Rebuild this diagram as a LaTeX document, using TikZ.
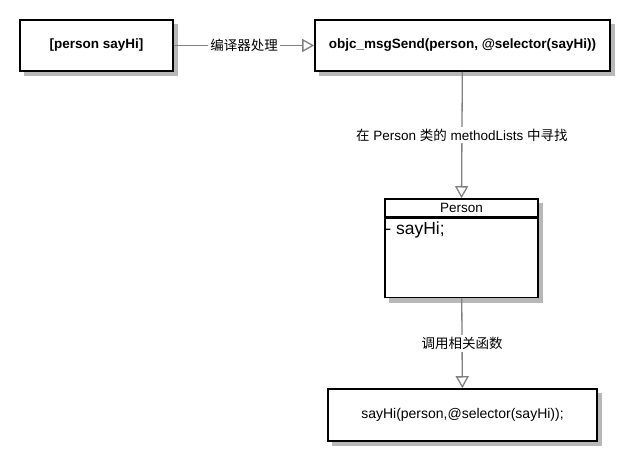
\documentclass[tikz,border=0pt]{standalone}
\usepackage{fontspec}
\setmainfont{Liberation Sans}
\newfontfamily\cjk{Noto Sans CJK SC}
\usetikzlibrary{positioning,arrows.meta,backgrounds}

\begin{document}
\begin{tikzpicture}
    [x=1pt,y=-1pt,
    box/.style = {draw,line width=1.6pt,fill=white,inner sep=0pt,font=\fontsize{13.5}{15}\selectfont\bfseries},
    plainbox/.style = {box,font=\fontsize{14}{16}\selectfont},
    flow/.style = {draw=black!50,line width=1.3pt,-{Triangle[open,length=12pt,width=13pt]}},
    tag/.style = {fill=white,inner sep=2pt,font=\fontsize{13.5}{15}\selectfont}
    ]
\useasboundingbox (0,0) rectangle (630,461);

\node[box,minimum width=153pt,minimum height=51pt] (call) at (96.5,45.5) {[person sayHi]};
\node[box,minimum width=295pt,minimum height=51pt] (send) at (462.5,45.5) {objc\_msgSend(person, @selector(sayHi))};

% class box
\node[plainbox,minimum width=153pt,minimum height=18pt,font=\fontsize{13.5}{15}\selectfont] (person) at (461.5,208) {Person};
\node[plainbox,minimum width=153pt,minimum height=79pt,below=0pt of person] (methods) {};
\node[anchor=north west,inner xsep=1pt,inner ysep=4pt,font=\fontsize{17.5}{19}\selectfont] (sayhi) at (methods.north west) {- sayHi;};

\node[plainbox,minimum width=269pt,minimum height=52pt] (result) at (462.5,415) {sayHi(person,@selector(sayHi));};

% shadows
\begin{scope}[on background layer]
\foreach \n in {call,send,person,methods,result}
    \fill[black!28] ([shift={(4.5,4.5)}]\n.north west) rectangle ([shift={(4.5,4.5)}]\n.south east);
\end{scope}

\draw[flow] (call) -- node[tag] {\cjk 编译器处理} (send);
\draw[flow] (send) -- node[tag] {{\cjk 在} Person {\cjk 类的} methodLists {\cjk 中寻找}} (person);
\draw[flow] (methods) -- node[tag] {\cjk 调用相关函数} (result);

\end{tikzpicture}
\end{document}
